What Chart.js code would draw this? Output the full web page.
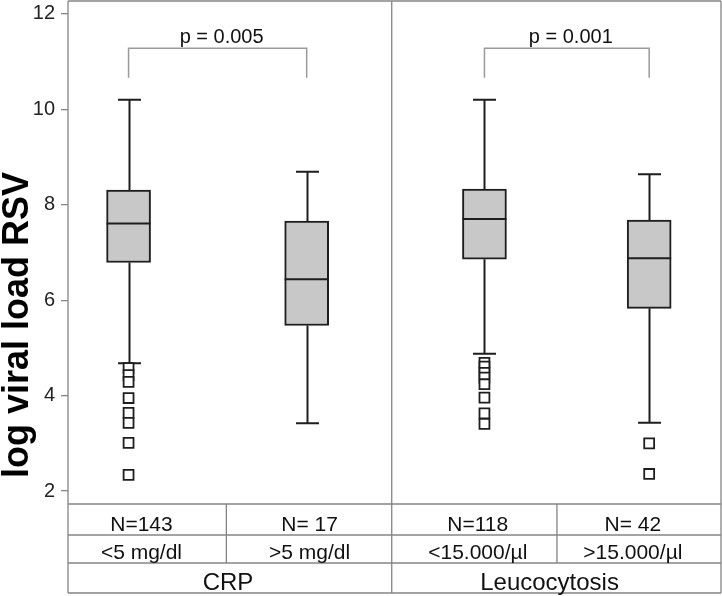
<!DOCTYPE html>
<html>
	<head>
		<meta charset="UTF-8">
		<title>log viral load RSV</title>
		<script src="https://cdn.jsdelivr.net/npm/chart.js"></script>
		<style>
		   *{padding: 0; margin: 0;}
		   body{background: #fff;}
		</style>
	</head>
	<body>
	<canvas id="myChart" width="722" height="596"></canvas>
	<script>
	// data
	const categories = ['<5 mg/dl', '>5 mg/dl', '<15.000/\u00b5l', '>15.000/\u00b5l'];
	const nLabels = ['N=143', 'N= 17', 'N=118', 'N= 42'];
	const groups = ['CRP', 'Leucocytosis'];
	const whiskerLow = [4.68, 3.42, 4.88, 3.43];
	const q1 = [6.79, 5.47, 6.86, 5.83];
	const median = [7.61, 6.44, 7.70, 6.88];
	const q3 = [8.31, 7.66, 8.33, 7.68];
	const whiskerHigh = [10.20, 8.69, 10.20, 8.64];
	const outliers = [
		[4.58, 4.43, 4.29, 3.95, 3.64, 3.43, 3.01, 2.34],
		[],
		[4.69, 4.61, 4.48, 4.38, 4.24, 3.96, 3.63, 3.41],
		[3.00, 2.36]
	];
	const pValues = ['p = 0.005', 'p = 0.001'];
	const yTicks = [2, 4, 6, 8, 10, 12];
	const yTitle = 'log viral load RSV';

	// layout (x units, 0..4)
	const boxPos = [0.371, 1.462, 2.551, 3.56];
	const labelPos = [0.45, 1.48, 2.51, 3.46];
	const colEdges = [0, 0.97, 1.983, 2.995, 4];
	const groupPos = [0.98, 2.95];
	const pairs = [[0, 1], [2, 3]];

	const FONT = "'Liberation Sans', Arial, sans-serif";
	const LINE = '#858585';
	const DARK = '#1e1e1e';

	const boxData = boxPos.map((p, i) => ({x: p, y: [q1[i], q3[i]]}));
	const outData = [];
	outliers.forEach((arr, i) => arr.forEach(v => outData.push({x: boxPos[i], y: v})));

	const boxPlot = {
		id: 'boxPlot',
		beforeDatasetsDraw(chart) {
			const {ctx, scales: {x, y}} = chart;
			ctx.save();
			ctx.strokeStyle = DARK;
			ctx.lineWidth = 2;
			boxPos.forEach((p, i) => {
				const px = Math.round(x.getPixelForValue(p)) + 0.5;
				ctx.beginPath();
				ctx.moveTo(px, y.getPixelForValue(whiskerHigh[i]));
				ctx.lineTo(px, y.getPixelForValue(q3[i]));
				ctx.moveTo(px, y.getPixelForValue(q1[i]));
				ctx.lineTo(px, y.getPixelForValue(whiskerLow[i]));
				[whiskerHigh[i], whiskerLow[i]].forEach(v => {
					const py = y.getPixelForValue(v);
					ctx.moveTo(px - 11.5, py);
					ctx.lineTo(px + 11.5, py);
				});
				ctx.stroke();
			});
			ctx.restore();
		},
		afterDatasetsDraw(chart) {
			const {ctx, scales: {x, y}} = chart;
			ctx.save();
			ctx.strokeStyle = DARK;
			ctx.lineWidth = 2;
			boxPos.forEach((p, i) => {
				const px = x.getPixelForValue(p);
				const py = y.getPixelForValue(median[i]);
				ctx.beginPath();
				ctx.moveTo(px - 22, py);
				ctx.lineTo(px + 22, py);
				ctx.stroke();
			});
			ctx.restore();
		},
		afterDraw(chart) {
			const {ctx, chartArea: a, scales: {x, y}} = chart;
			const bottom = 593;
			const r1 = a.bottom, r2 = 535, r3 = 563;
			ctx.save();
			// frame + table lines
			ctx.strokeStyle = LINE;
			ctx.lineWidth = 1.3;
			ctx.beginPath();
			ctx.moveTo(a.left, a.top); ctx.lineTo(a.right, a.top);
			ctx.moveTo(a.left, a.top); ctx.lineTo(a.left, bottom);
			ctx.moveTo(a.right, a.top); ctx.lineTo(a.right, bottom);
			ctx.moveTo(a.left, bottom); ctx.lineTo(a.right, bottom);
			[r1, r2, r3].forEach(r => { ctx.moveTo(a.left, r); ctx.lineTo(a.right, r); });
			const mid = x.getPixelForValue(colEdges[2]);
			ctx.moveTo(mid, a.top); ctx.lineTo(mid, bottom);
			[colEdges[1], colEdges[3]].forEach(e => {
				const ex = x.getPixelForValue(e);
				ctx.moveTo(ex, r1); ctx.lineTo(ex, r3);
			});
			ctx.stroke();

			// table text
			ctx.fillStyle = '#111';
			ctx.textAlign = 'center';
			ctx.textBaseline = 'alphabetic';
			ctx.font = '21px ' + FONT;
			nLabels.forEach((t, i) => ctx.fillText(t, x.getPixelForValue(labelPos[i]), 530.5));
			categories.forEach((t, i) => ctx.fillText(t, x.getPixelForValue(labelPos[i]), 559));
			ctx.font = '24px ' + FONT;
			groups.forEach((t, i) => ctx.fillText(t, x.getPixelForValue(groupPos[i]), 590));

			// p-value brackets
			pairs.forEach((pr, k) => {
				const xa = x.getPixelForValue(boxPos[pr[0]]);
				const xb = x.getPixelForValue(boxPos[pr[1]]);
				const top = y.getPixelForValue(11.28);
				const leg = y.getPixelForValue(10.66);
				ctx.strokeStyle = '#9a9a9a';
				ctx.lineWidth = 1.5;
				ctx.beginPath();
				ctx.moveTo(xa, leg); ctx.lineTo(xa, top); ctx.lineTo(xb, top); ctx.lineTo(xb, leg);
				ctx.stroke();
				ctx.fillStyle = '#111';
				ctx.font = '20px ' + FONT;
				ctx.fillText(pValues[k], (xa + xb) / 2 + 4, y.getPixelForValue(11.39));
			});

			// y axis title
			ctx.save();
			ctx.translate(28, 325);
			ctx.rotate(-Math.PI / 2);
			ctx.fillStyle = '#000';
			ctx.font = 'bold 36px ' + FONT;
			ctx.textAlign = 'center';
			ctx.textBaseline = 'alphabetic';
			ctx.fillText(yTitle, 0, 0);
			ctx.restore();
			ctx.restore();
		}
	};

	new Chart(document.getElementById('myChart'), {
		type: 'bar',
		data: {
			datasets: [{
				type: 'scatter',
				data: outData,
				pointStyle: 'rect',
				radius: 7,
				hoverRadius: 7,
				backgroundColor: '#fff',
				borderColor: DARK,
				borderWidth: 1.8
			}, {
				data: boxData,
				barThickness: 44,
				backgroundColor: '#c8c8c8',
				borderColor: DARK,
				borderWidth: 2,
				borderSkipped: false
			}]
		},
		options: {
			responsive: false,
			animation: false,
			events: [],
			layout: {autoPadding: false, padding: {top: 1, right: 1, bottom: 92, left: 0}},
			plugins: {legend: {display: false}, tooltip: {enabled: false}},
			scales: {
				x: {type: 'linear', display: false, offset: false, min: 0, max: 4},
				y: {
					min: 1.73,
					max: 12.27,
					afterFit: s => { s.width = 68; s.paddingTop = 0; s.paddingBottom = 0; },
					afterBuildTicks: s => { s.ticks = yTicks.map(v => ({value: v})); },
					border: {display: false},
					grid: {drawOnChartArea: false, drawTicks: true, tickLength: 7, color: LINE, lineWidth: 1.3},
					ticks: {padding: 6, color: '#222', font: {family: FONT, size: 20}}
				}
			}
		},
		plugins: [boxPlot]
	});
	</script>
	</body>
</html>
